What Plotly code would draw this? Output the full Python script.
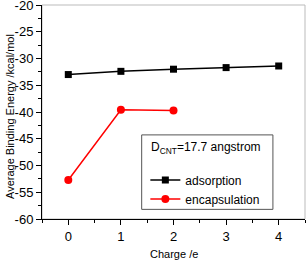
import plotly.graph_objects as go

charge_ads = [0, 1, 2, 3, 4]
energy_ads = [-33.0, -32.4, -32.0, -31.7, -31.4]
charge_enc = [0, 1, 2]
energy_enc = [-52.7, -39.6, -39.7]

y_tickvals = [-60, -55, -50, -45, -40, -35, -30, -25, -20]
y_ticktext = ["-60", "-55", "-50", "-45", "-40", "-35", "-30", "-25", "-20"]
x_tickvals = [0, 1, 2, 3, 4]
x_ticktext = ["0", "1", "2", "3", "4"]

FONT = "Liberation Sans, Arial, sans-serif"

fig = go.Figure()
fig.add_trace(go.Scatter(
    x=charge_ads, y=energy_ads, name="adsorption", mode="lines+markers",
    line=dict(color="black", width=1.5),
    marker=dict(symbol="square", size=7, color="black")))
fig.add_trace(go.Scatter(
    x=charge_enc, y=energy_enc, name="encapsulation", mode="lines+markers",
    line=dict(color="#ff0000", width=1.5),
    marker=dict(symbol="circle", size=8, color="#ff0000")))

axis_common = dict(
    showgrid=False, zeroline=False, showline=True, linecolor="black", linewidth=1,
    ticks="outside", ticklen=5, tickwidth=1, tickcolor="black", automargin=False,
    ticklabeloverflow="allow",
    tickfont=dict(family=FONT, size=13, color="black"),
)

fig.update_xaxes(range=[-0.5, 4.5], tickvals=x_tickvals, ticktext=x_ticktext,
                 minor=dict(ticks="outside", ticklen=3, dtick=0.5, tick0=0.5, tickcolor="black"),
                 **axis_common)
fig.update_yaxes(range=[-60, -20], tickvals=y_tickvals, ticktext=y_ticktext,
                 minor=dict(ticks="outside", ticklen=3, dtick=2.5, tick0=-57.5, tickcolor="black"),
                 **axis_common)

# axis titles
fig.add_annotation(xref="paper", yref="paper", x=0.5, y=0, yshift=-35, xanchor="center", yanchor="middle",
                   text="Charge /e", showarrow=False, font=dict(family=FONT, size=11, color="black"))
fig.add_annotation(xref="paper", yref="paper", x=0, xshift=-32, y=0.5, yshift=-5, xanchor="center", yanchor="middle",
                   text="Average Binding Energy /kcal/mol", textangle=-90, showarrow=False,
                   font=dict(family=FONT, size=11, color="black"))

# grey frame (top/right)
fig.add_shape(type="rect", xref="paper", yref="paper", x0=0, x1=1, y0=0, y1=1,
              line=dict(color="#bbbbbb", width=1), layer="below")
# legend box
fig.add_shape(type="rect", xref="paper", yref="paper", x0=0.379, x1=0.878, y0=0.045, y1=0.393,
              line=dict(color="#555555", width=1), fillcolor="white", layer="below")
fig.add_annotation(xref="paper", yref="paper", x=0.407, y=0.332, xanchor="left", yanchor="middle",
                   text="D<sub>CNT</sub>=17.7 angstrom", showarrow=False,
                   font=dict(family=FONT, size=12, color="black"))

fig.update_layout(
    width=307, height=260,
    margin=dict(l=42, r=2, t=5, b=41),
    paper_bgcolor="white", plot_bgcolor="white",
    font=dict(family=FONT, size=12, color="black"),
    showlegend=True,
    legend=dict(x=0.393, y=0.25, xanchor="left", yanchor="top", bgcolor="rgba(0,0,0,0)",
                borderwidth=0, font=dict(family=FONT, size=12, color="black"),
                itemwidth=30, tracegroupgap=0),
)

fig.write_html("out.html", config={"displayModeBar": False},
               post_script="document.body.style.margin='0';")
